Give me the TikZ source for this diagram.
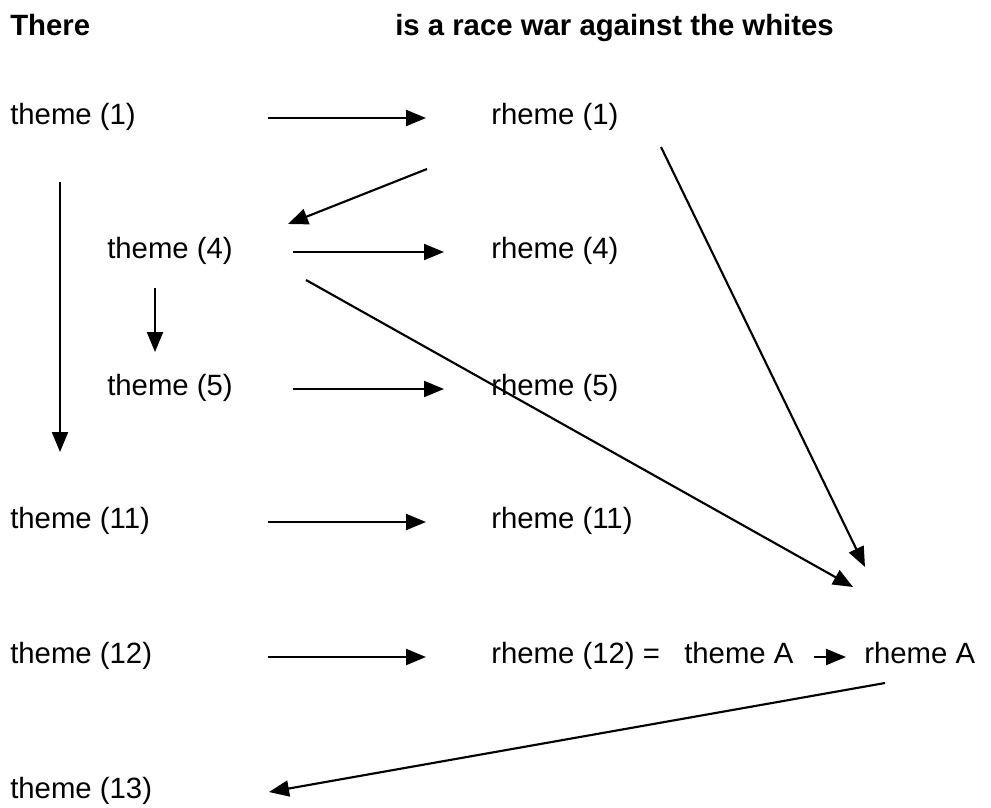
\documentclass[tikz,border=0pt]{standalone}
\usepackage{fontspec}
\setmainfont{Liberation Sans}
\usetikzlibrary{arrows.meta,positioning}
\tikzset{
    ttText/.style={
        anchor=base west,
        inner sep=0pt,
        font=\fontsize{22}{26}\selectfont
    },
    ttTitle/.style={ttText, font=\fontsize{22}{26}\selectfont\bfseries},
    % Arrows
    ttArrow/.style={-{Triangle[length=15pt,width=12pt]}, line width=1.6pt, draw=black}
}
\begin{document}
\begin{tikzpicture}[x=0.75pt,y=-0.75pt]
    \useasboundingbox (0,0) rectangle (991,807);
    \node[ttTitle] (there) at (10,35) {There};
    \node[ttTitle] (title) at (395,35) {is a race war against the whites};
    % theme / rheme rows
    \foreach \n/\tx/\y/\ax/\bx in {1/10/117/268/426, 4/107/251/293/444, 5/107/388/293/444, 11/10/521/268/426} {
        \node[ttText] (t\n) at (\tx,\y+7.5) {theme (\n)};
        \node[ttText] (r\n) at (491,\y+7.5) {rheme (\n)};
        \coordinate (s\n) at (\ax,\y+1);
        \coordinate (e\n) at (\bx,\y+1);
        \draw[ttArrow] (s\n) -- (e\n);
    }
    \node[ttText] (t12) at (10,663.5) {theme (12)};
    \node[ttText] (r12) at (491,663.5) {rheme (12) =};
    \node[ttText] (tA) at (684,663.5) {theme A};
    \node[ttText] (rA) at (864,663.5) {rheme A};
    \node[ttText] (t13) at (10,798.5) {theme (13)};
    \coordinate (s12) at (268,657);
    \coordinate (e12) at (426,657);
    \draw[ttArrow] (s12) -- (e12);
    \coordinate (sA) at (814,657);
    \coordinate (eA) at (846,657);
    \draw[ttArrow] (sA) -- (eA);
    % theme chains
    \coordinate (v1s) at (60,182);
    \coordinate (v1e) at (60,452);
    \draw[ttArrow] (v1s) -- (v1e);
    \coordinate (v4s) at (155,288);
    \coordinate (v4e) at (155,352);
    \draw[ttArrow] (v4s) -- (v4e);
    \coordinate (d1s) at (427,169);
    \coordinate (d1e) at (288,224);
    \draw[ttArrow] (d1s) -- (d1e);
    % long links to rheme (12) = theme A
    \coordinate (l1s) at (661,147);
    \coordinate (l1e) at (865,567);
    \draw[ttArrow] (l1s) -- (l1e);
    \coordinate (l4s) at (306,280);
    \coordinate (l4e) at (853,587);
    \draw[ttArrow] (l4s) -- (l4e);
    \coordinate (bs) at (885,683);
    \coordinate (be) at (269,792);
    \draw[ttArrow] (bs) -- (be);
\end{tikzpicture}
\end{document}
